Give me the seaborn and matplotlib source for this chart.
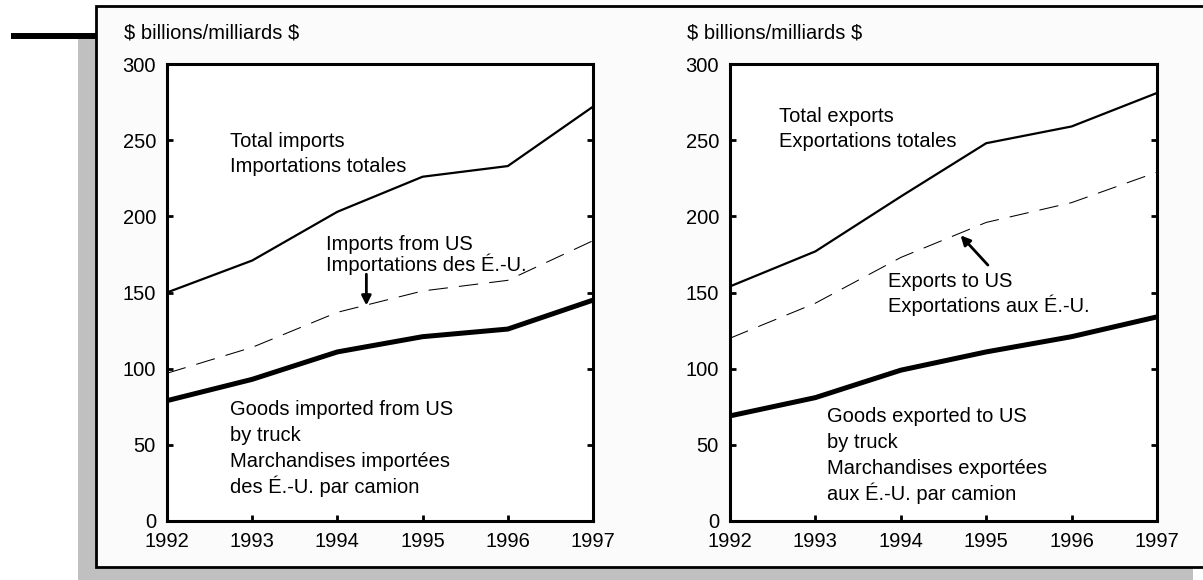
"""
Canada - US trade, 1992-1997: imports (left) and exports (right)
"""

import matplotlib.pyplot as plt
import matplotlib.patches as mpatches
from matplotlib.lines import Line2D
import seaborn as sns

# ---- data ----
years = [1992, 1993, 1994, 1995, 1996, 1997]

total_imports = [150, 171, 203, 226, 233, 272]
imports_from_us = [97, 114, 137, 151, 158, 184]
truck_imports = [79, 93, 111, 121, 126, 145]

total_exports = [154, 177, 213, 248, 259, 281]
exports_to_us = [120, 143, 173, 196, 209, 229]
truck_exports = [69, 81, 99, 111, 121, 134]

y_ticks = [0, 50, 100, 150, 200, 250, 300]
unit_label = r"\$ billions/milliards \$"

import_notes = [["Total imports", "Importations totales"],
                ["Imports from US", "Importations des É.-U."],
                ["Goods imported from US", "by truck", "Marchandises importées",
                 "des É.-U. par camion"]]
export_notes = [["Total exports", "Exportations totales"],
                ["Exports to US", "Exportations aux É.-U."],
                ["Goods exported to US", "by truck", "Marchandises exportées",
                 "aux É.-U. par camion"]]

# ---- style ----
sns.set_style("ticks")
plt.rcParams['font.family'] = ['Liberation Sans', 'DejaVu Sans']
plt.rcParams['lines.scale_dashes'] = False
plt.rcParams['text.color'] = 'black'
plt.rcParams['xtick.labelcolor'] = 'black'
plt.rcParams['ytick.labelcolor'] = 'black'

W, H = 1203, 580
FS = 14.5


def draw_panel(ax, total, via_us, truck):
    """Three lines: total (solid), US share (dashed), by truck (thick)"""
    sns.lineplot(x=years, y=total, ax=ax, color='black', linewidth=1.6)
    sns.lineplot(x=years, y=via_us, ax=ax, color='black', linewidth=0.75,
                 linestyle=(0, (14, 8)))
    sns.lineplot(x=years, y=truck, ax=ax, color='black', linewidth=3.6)

    ax.set_xlim(years[0], years[-1])
    ax.set_ylim(y_ticks[0], y_ticks[-1])
    ax.set_xticks(years)
    ax.set_yticks(y_ticks)
    ax.tick_params(axis='both', direction='in', length=4.5, width=2,
                   labelsize=FS, pad=8, colors='black')
    ax.tick_params(axis='y', right=True, labelright=False)
    for side in ['left', 'right', 'top', 'bottom']:
        ax.spines[side].set_visible(True)
        ax.spines[side].set_linewidth(2.2)
        ax.spines[side].set_color('black')
    ax.set_xlabel('')
    ax.set_ylabel('')
    ax.set_facecolor('white')


def note(ax, x, y, lines, step_px=26):
    """Left aligned block of text, first baseline at (x, y), fixed line step"""
    for i, line in enumerate(lines):
        ax.annotate(line, xy=(x, y), xytext=(0, -i * step_px * 0.72),
                    textcoords='offset points', fontsize=FS,
                    va='baseline', ha='left')


fig = plt.figure(figsize=(W / 100, H / 100), dpi=100)
fig.patch.set_facecolor('white')

# frame: grey drop shadow, off-white box, black rule on the left
fig.patches.append(mpatches.Rectangle((78 / W, 0), (1193 - 78) / W, (H - 39) / H,
                                      transform=fig.transFigure, facecolor='#c0c0c0',
                                      edgecolor='none', zorder=-2))
fig.patches.append(mpatches.Rectangle((96 / W, (H - 567) / H), (1260 - 96) / W, (567 - 6) / H,
                                      transform=fig.transFigure, facecolor='#fbfbfb',
                                      edgecolor='black', linewidth=2, zorder=-1))
fig.add_artist(Line2D([11 / W, 96 / W], [1 - 36 / H, 1 - 36 / H], color='black',
                      linewidth=4.3, solid_capstyle='butt', transform=fig.transFigure))

ax1 = fig.add_axes([167 / W, (H - 521) / H, 426 / W, 457 / H])
ax2 = fig.add_axes([730 / W, (H - 521) / H, 427 / W, 457 / H])

draw_panel(ax1, total_imports, imports_from_us, truck_imports)
draw_panel(ax2, total_exports, exports_to_us, truck_exports)

fig.text(124 / W, 1 - 33 / H, unit_label, fontsize=FS, va='center', ha='left')
fig.text(687 / W, 1 - 33 / H, unit_label, fontsize=FS, va='center', ha='left')

# imports annotations
note(ax1, 1992.74, 245.6, import_notes[0], 25)
note(ax1, 1993.87, 178.0, import_notes[1], 21)
note(ax1, 1992.74, 69.6, import_notes[2], 26)
ax1.annotate('', xy=(1994.34, 141.5), xytext=(1994.34, 162),
             arrowprops=dict(arrowstyle='-|>', color='black', lw=2, mutation_scale=14,
                             shrinkA=0, shrinkB=0))

# exports annotations
note(ax2, 1992.57, 262.0, export_notes[0], 25)
note(ax2, 1993.85, 153.6, export_notes[1], 25)
note(ax2, 1993.14, 65.0, export_notes[2], 26)
ax2.annotate('', xy=(1994.70, 187.5), xytext=(1995.02, 168),
             arrowprops=dict(arrowstyle='-|>', color='black', lw=2, mutation_scale=14,
                             shrinkA=0, shrinkB=0))

fig.savefig('out.png', dpi=100)
